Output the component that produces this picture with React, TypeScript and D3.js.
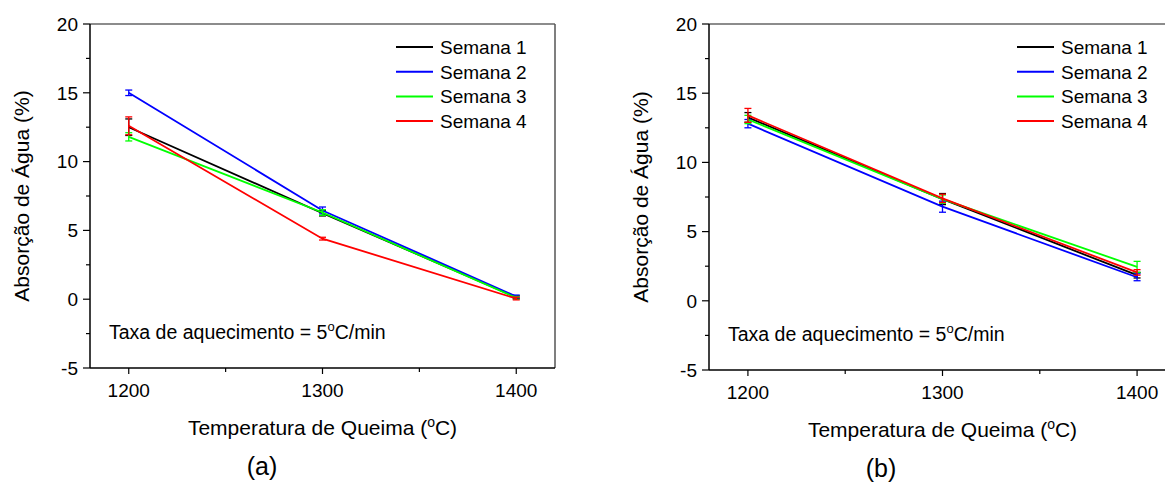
import React from 'react';
import * as d3 from 'd3';

// temperaturas de queima (eixo x)
const temperaturas = [1200, 1300, 1400];
const nomesSeries = ['Semana 1', 'Semana 2', 'Semana 3', 'Semana 4'];
const cores = ['#000000', '#0000ff', '#00ff00', '#ff0000'];

// painel (a)
const semana1A = [12.5, 6.25, 0.15];
const semana2A = [15.0, 6.45, 0.2];
const semana3A = [11.8, 6.3, 0.1];
const semana4A = [12.6, 4.4, 0.05];
const erro1A = [0.6, 0.2, 0.1];
const erro2A = [0.2, 0.25, 0.1];
const erro3A = [0.3, 0.2, 0.1];
const erro4A = [0.65, 0.1, 0.1];

// painel (b)
const semana1B = [13.25, 7.35, 1.85];
const semana2B = [12.8, 6.8, 1.7];
const semana3B = [13.1, 7.35, 2.45];
const semana4B = [13.4, 7.4, 2.05];
const erro1B = [0.35, 0.4, 0.2];
const erro2B = [0.3, 0.4, 0.25];
const erro3B = [0.3, 0.3, 0.4];
const erro4B = [0.5, 0.3, 0.2];

const yTicks = [-5, 0, 5, 10, 15, 20];
const yMinorTicks = [-2.5, 2.5, 7.5, 12.5, 17.5];
const xTicks = [1200, 1300, 1400];
const xMinorTicks = [1250, 1350];

const font = 'Arial, "Liberation Sans", sans-serif';

function Panel(props) {
    const { x0, x1, y0, y1, valores, erros, rotulo } = props;

    let x = d3.scaleLinear().domain([1180, 1420]).range([x0, x1]);
    let y = d3.scaleLinear().domain([-5, 20]).range([y1, y0]);

    let line = d3.line()
        .x((d, i) => x(temperaturas[i]))
        .y(d => y(d));

    let cx = (x0 + x1) / 2;

    return (
        <g fontFamily={font}>
            {/* moldura */}
            <line x1={x0} x2={x1} y1={y0} y2={y0} stroke="#666" strokeWidth={1.5} />
            <line x1={x1} x2={x1} y1={y0} y2={y1} stroke="#555" strokeWidth={1.5} />
            <line x1={x0} x2={x1} y1={y1} y2={y1} stroke="#000" strokeWidth={1.5} />
            <line x1={x0} x2={x0} y1={y0} y2={y1} stroke="#000" strokeWidth={1.5} />

            {yTicks.map(t =>
                <g key={'y' + t}>
                    <line x1={x0 - 7} x2={x0} y1={y(t)} y2={y(t)} stroke="#000" strokeWidth={1.2} />
                    <text x={x0 - 12} y={y(t)} dy="0.36em" textAnchor="end" fontSize={19}>{t}</text>
                </g>
            )}
            {yMinorTicks.map(t =>
                <line key={'ym' + t} x1={x0 - 4} x2={x0} y1={y(t)} y2={y(t)} stroke="#000" strokeWidth={1.2} />
            )}
            {xTicks.map(t =>
                <g key={'x' + t}>
                    <line x1={x(t)} x2={x(t)} y1={y1} y2={y1 + 6} stroke="#000" strokeWidth={1.2} />
                    <text x={x(t)} y={y1 + 29} textAnchor="middle" fontSize={19}>{t}</text>
                </g>
            )}
            {xMinorTicks.map(t =>
                <line key={'xm' + t} x1={x(t)} x2={x(t)} y1={y1} y2={y1 + 4} stroke="#000" strokeWidth={1.2} />
            )}

            {valores.map((serie, s) =>
                <g key={'s' + s}>
                    <path d={line(serie)} fill="none" stroke={cores[s]} strokeWidth={1.8} />
                    {serie.map((v, i) => {
                        let px = x(temperaturas[i]);
                        let e = erros[s][i];
                        return (
                            <g key={i} stroke={cores[s]} strokeWidth={1.3}>
                                <line x1={px} x2={px} y1={y(v + e)} y2={y(v - e)} />
                                <line x1={px - 3.5} x2={px + 3.5} y1={y(v + e)} y2={y(v + e)} />
                                <line x1={px - 3.5} x2={px + 3.5} y1={y(v - e)} y2={y(v - e)} />
                            </g>
                        );
                    })}
                </g>
            )}

            {nomesSeries.map((nome, i) =>
                <g key={nome}>
                    <line x1={x1 - 159} x2={x1 - 122} y1={47 + i * 24.7} y2={47 + i * 24.7}
                          stroke={cores[i]} strokeWidth={2} />
                    <text x={x1 - 115} y={47 + i * 24.7} dy="0.36em" fontSize={19}>{nome}</text>
                </g>
            )}

            <text x={x0 + 19} y={y1 - 29} fontSize={19.5}>
                Taxa de aquecimento = 5<tspan dy={-8} fontSize={13}>o</tspan><tspan dy={8}>C/min</tspan>
            </text>

            <text transform={'translate(' + (x0 - 69) + ',' + ((y0 + y1) / 2) + ') rotate(-90)'}
                  textAnchor="middle" dy="0.36em" fontSize={21}>Absorção de Água (%)</text>

            <text x={cx} y={y1 + 67} textAnchor="middle" fontSize={21}>
                Temperatura de Queima (<tspan dy={-8} fontSize={14}>o</tspan><tspan dy={8}>C)</tspan>
            </text>

            <text x={x0 + 172} y={y1 + 107} textAnchor="middle" fontSize={25}>{rotulo}</text>
        </g>
    );
}

export default function App() {
    return (
        <div style={{ position: 'absolute', left: 0, top: 0 }}>
            <svg width={1165} height={484} style={{ display: 'block', background: '#fff' }}>
                <Panel x0={90} x1={555} y0={24} y1={368} rotulo="(a)"
                       valores={[semana1A, semana2A, semana3A, semana4A]}
                       erros={[erro1A, erro2A, erro3A, erro4A]} />
                <Panel x0={709} x1={1176} y0={24} y1={370} rotulo="(b)"
                       valores={[semana1B, semana2B, semana3B, semana4B]}
                       erros={[erro1B, erro2B, erro3B, erro4B]} />
            </svg>
        </div>
    );
}
